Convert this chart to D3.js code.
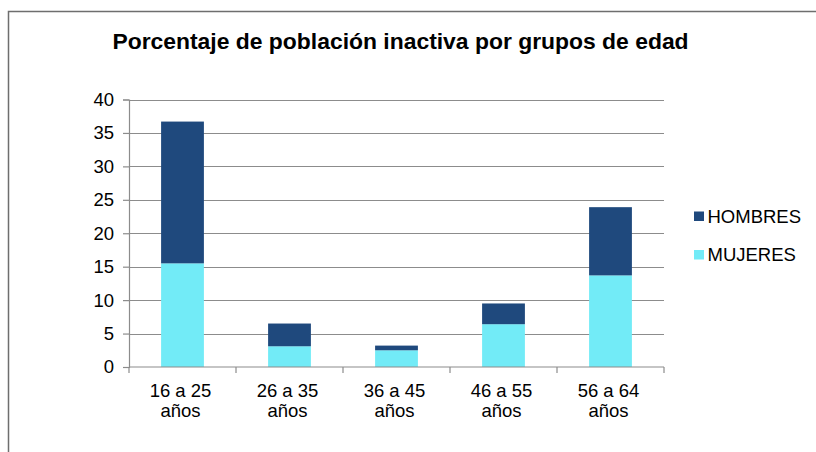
<!DOCTYPE html>
<html>
<head>
<meta charset="utf-8">
<script src="https://cdn.jsdelivr.net/npm/d3@7"></script>
<style>
  body { margin: 0; background: #fff; }
  svg { display: block; font-family: Arial, "Liberation Sans", sans-serif; }
</style>
</head>
<body>
<script>
// categories and series values
var groups = ['16 a 25 años', '26 a 35 años', '36 a 45 años', '46 a 55 años', '56 a 64 años'];
var mujeres = [15.5, 3.1, 2.5, 6.4, 13.7];
var hombres = [21.2, 3.4, 0.7, 3.1, 10.2];
var seriesNames = ['MUJERES', 'HOMBRES'];
var yTicks = [0, 5, 10, 15, 20, 25, 30, 35, 40];

var W = 816, H = 452;
var plot = { left: 129, right: 664, top: 99.5, bottom: 367 };
var fontSize = '18.5px';

var svg = d3.select('body').append('svg')
	.attr('width', W)
	.attr('height', H);

// chart frame (only left and top edges are visible in the crop)
svg.append('path')
	.attr('d', `M8.5,${H} V11.5 H${W}`)
	.attr('fill', 'none')
	.attr('stroke', '#6e6e6e')
	.attr('stroke-width', 1.5);

svg.append('text')
	.attr('x', 400.5)
	.attr('y', 48.5)
	.attr('text-anchor', 'middle')
	.style('font-size', '22.9px')
	.style('font-weight', 'bold')
	.attr('fill', '#000')
	.text('Porcentaje de población inactiva por grupos de edad');

var x = d3.scaleBand()
	.domain(groups)
	.range([plot.left, plot.right])
	.paddingInner(0.6)
	.paddingOuter(0.3);

var y = d3.scaleLinear()
	.domain([0, 40])
	.range([plot.bottom, plot.top]);

var color = d3.scaleOrdinal()
	.domain(seriesNames)
	.range(['#72EBF7', '#1F497D']);

// gridlines
svg.append('g')
	.selectAll('line')
	.data(yTicks.filter(function(d) { return d > 0; }))
	.enter().append('line')
	.attr('x1', plot.left)
	.attr('x2', plot.right)
	.attr('y1', function(d) { return Math.round(y(d)) + 0.5; })
	.attr('y2', function(d) { return Math.round(y(d)) + 0.5; })
	.attr('stroke', '#8c8c8c')
	.attr('stroke-width', 1.2);

// stacked bars
var rows = groups.map(function(g, i) {
	return { group: g, MUJERES: mujeres[i], HOMBRES: hombres[i] };
});
var stacked = d3.stack().keys(seriesNames)(rows);

svg.append('g')
	.selectAll('g')
	.data(stacked)
	.enter().append('g')
	.attr('fill', function(d) { return color(d.key); })
	.selectAll('rect')
	.data(function(d) { return d; })
	.enter().append('rect')
	.attr('x', function(d) { return x(d.data.group); })
	.attr('width', x.bandwidth())
	.attr('y', function(d) { return y(d[1]); })
	.attr('height', function(d) { return y(d[0]) - y(d[1]); });

// y axis
var yAxis = svg.append('g')
	.attr('transform', `translate(${plot.left},0)`)
	.call(d3.axisLeft(y).tickValues(yTicks).tickSize(6).tickPadding(9).tickFormat(d3.format('d')));
yAxis.selectAll('path, line').attr('stroke', '#8c8c8c').attr('stroke-width', 1.2);
yAxis.selectAll('text').style('font-size', fontSize).attr('fill', '#000').attr('font-family', null);

// x axis: ticks at band edges, labels centred in two lines
var xAxis = svg.append('g')
	.attr('transform', `translate(0,${plot.bottom})`);
xAxis.append('line')
	.attr('x1', plot.left).attr('x2', plot.right)
	.attr('stroke', '#8c8c8c').attr('stroke-width', 1.2);
xAxis.selectAll('.tick')
	.data(d3.range(groups.length + 1))
	.enter().append('line')
	.attr('x1', function(i) { return plot.left + i * (plot.right - plot.left) / groups.length; })
	.attr('x2', function(i) { return plot.left + i * (plot.right - plot.left) / groups.length; })
	.attr('y1', 0).attr('y2', 6)
	.attr('stroke', '#8c8c8c').attr('stroke-width', 1.2);

var labels = xAxis.selectAll('.xlabel')
	.data(groups)
	.enter().append('text')
	.attr('text-anchor', 'middle')
	.style('font-size', fontSize)
	.attr('fill', '#000');
labels.append('tspan')
	.attr('x', function(d) { return x(d) + x.bandwidth() / 2 - 2; })
	.attr('y', 29.7)
	.text(function(d) { return d.replace(' años', ''); });
labels.append('tspan')
	.attr('x', function(d) { return x(d) + x.bandwidth() / 2 - 2; })
	.attr('y', 50.3)
	.text('años');

// legend
var legend = svg.append('g')
	.selectAll('g')
	.data(['HOMBRES', 'MUJERES'])
	.enter().append('g')
	.attr('transform', function(d, i) { return `translate(694,${211.5 + i * 38.5})`; });
legend.append('rect')
	.attr('width', 10).attr('height', 9.5)
	.attr('fill', function(d) { return color(d); });
legend.append('text')
	.attr('x', 13.5)
	.attr('y', 11.2)
	.style('font-size', fontSize)
	.attr('fill', '#000')
	.text(function(d) { return d; });
</script>
</body>
</html>
